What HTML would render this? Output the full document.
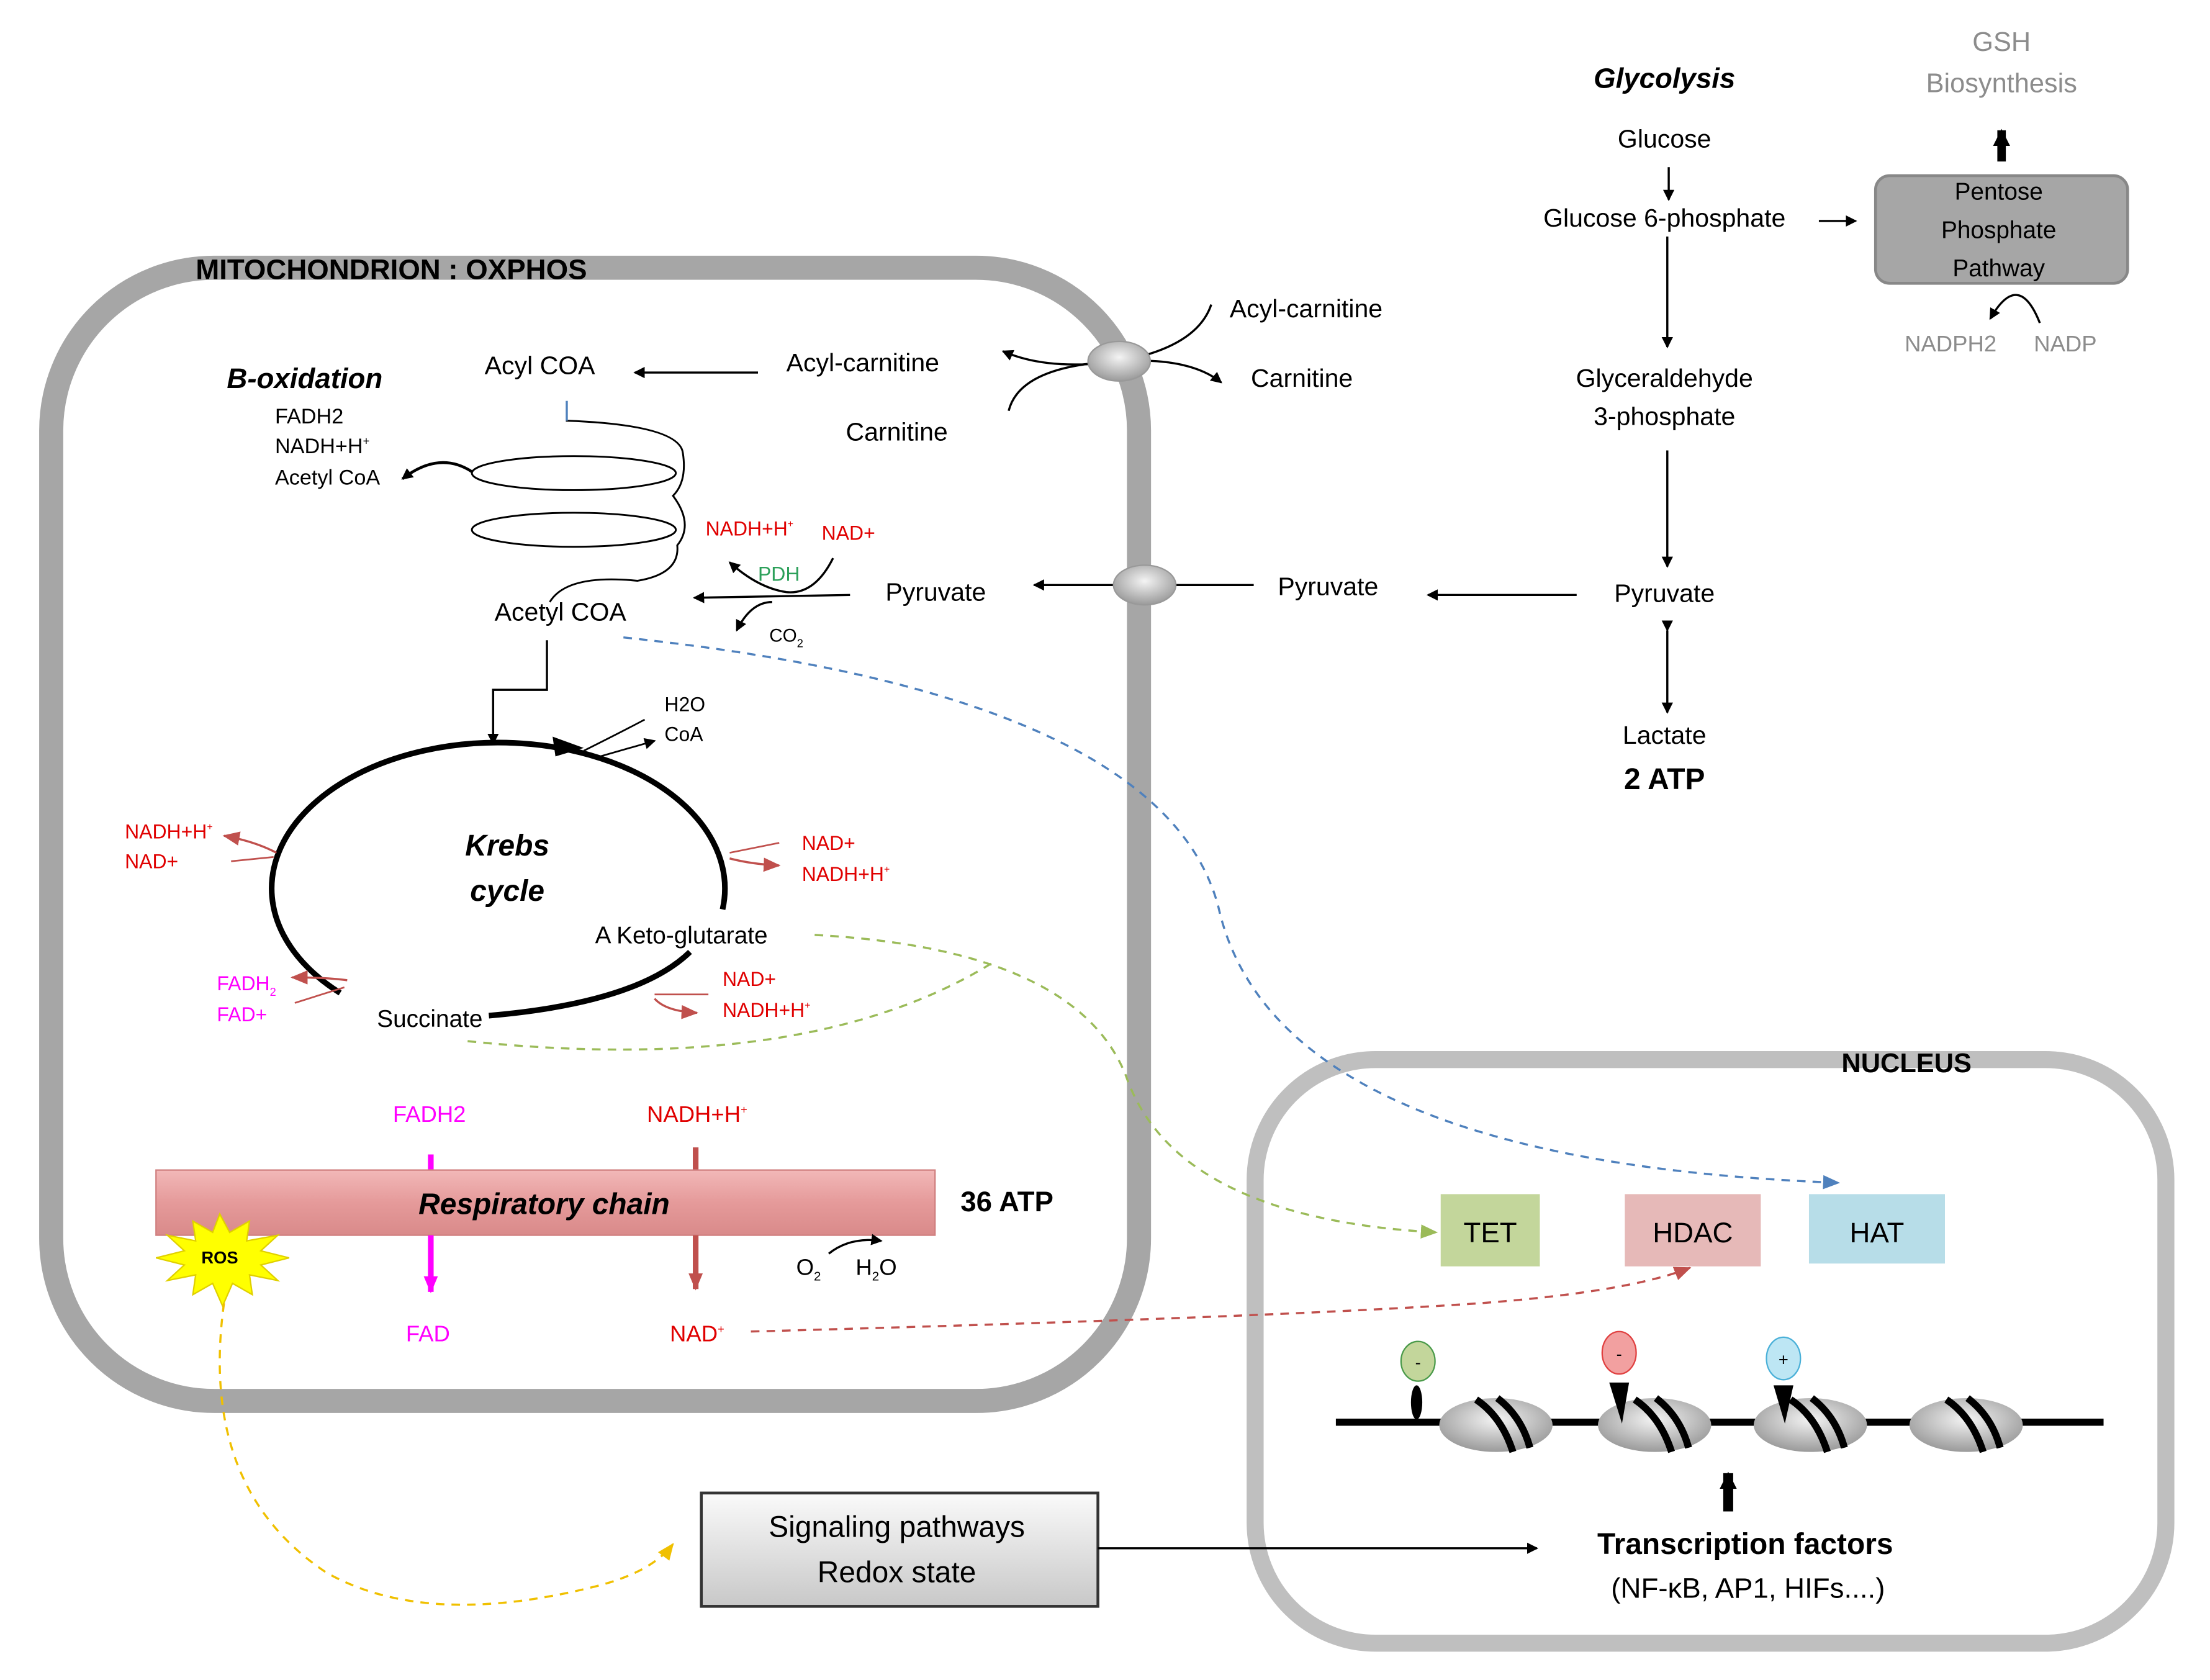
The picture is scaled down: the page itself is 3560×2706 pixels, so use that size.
<!DOCTYPE html>
<html><head><meta charset="utf-8">
<style>
html,body{margin:0;padding:0;background:#fff;}
svg{display:block;}
text{font-family:"Liberation Sans",sans-serif;}
</style></head>
<body>
<svg width="3560" height="2706" viewBox="0 0 1560 1186" xmlns="http://www.w3.org/2000/svg">
<defs>
<marker id="ab" markerWidth="8" markerHeight="8" refX="7" refY="4" orient="auto" markerUnits="userSpaceOnUse"><path d="M0,0 L8,4 L0,8 z" fill="#000"/></marker>
<marker id="abL" markerWidth="12" markerHeight="12" refX="11" refY="6" orient="auto" markerUnits="userSpaceOnUse"><path d="M0,0 L12,6 L0,12 z" fill="#000"/></marker>
<marker id="ar" markerWidth="12" markerHeight="10" refX="11" refY="5" orient="auto" markerUnits="userSpaceOnUse"><path d="M0,0 L12,5 L0,10 z" fill="#c0504d"/></marker>
<marker id="am" markerWidth="12" markerHeight="10" refX="11" refY="5" orient="auto" markerUnits="userSpaceOnUse"><path d="M0,0 L12,5 L0,10 z" fill="#ff00ff"/></marker>
<marker id="ablue" markerWidth="12" markerHeight="10" refX="11" refY="5" orient="auto" markerUnits="userSpaceOnUse"><path d="M0,0 L12,5 L0,10 z" fill="#4f81bd"/></marker>
<marker id="agr" markerWidth="12" markerHeight="10" refX="11" refY="5" orient="auto" markerUnits="userSpaceOnUse"><path d="M0,0 L12,5 L0,10 z" fill="#9bbb59"/></marker>
<marker id="ay" markerWidth="12" markerHeight="10" refX="11" refY="5" orient="auto" markerUnits="userSpaceOnUse"><path d="M0,0 L12,5 L0,10 z" fill="#f0c000"/></marker>
<linearGradient id="gb" x1="0" y1="0" x2="0" y2="1"><stop offset="0" stop-color="#fafafa"/><stop offset="1" stop-color="#c8c8c8"/></linearGradient>
<linearGradient id="gp" x1="0" y1="0" x2="0" y2="1"><stop offset="0" stop-color="#f2b8b8"/><stop offset="0.5" stop-color="#e59a9a"/><stop offset="1" stop-color="#d98a8a"/></linearGradient>
<radialGradient id="gn" cx="0.5" cy="0.4" r="0.6"><stop offset="0" stop-color="#f4f4f4"/><stop offset="1" stop-color="#9a9a9a"/></radialGradient>
</defs>

<!-- Mitochondrion -->
<rect x="36" y="189" width="768" height="800" rx="115" fill="none" stroke="#a6a6a6" stroke-width="17"/>
<text x="138" y="197" font-size="20" font-weight="bold">MITOCHONDRION : OXPHOS</text>

<!-- Nucleus -->
<rect x="886" y="748" width="643" height="412" rx="85" fill="none" stroke="#bfbfbf" stroke-width="12"/>
<text x="1300" y="757" font-size="19" font-weight="bold">NUCLEUS</text>

<!-- Glycolysis -->
<text x="1175" y="62" font-size="20" font-weight="bold" font-style="italic" text-anchor="middle">Glycolysis</text>
<text x="1175" y="104" font-size="18" text-anchor="middle">Glucose</text>
<line x1="1178" y1="118" x2="1178" y2="141" stroke="#000" stroke-width="1.5" marker-end="url(#ab)"/>
<text x="1175" y="160" font-size="18" text-anchor="middle">Glucose 6-phosphate</text>
<line x1="1284" y1="156" x2="1310" y2="156" stroke="#000" stroke-width="1.5" marker-end="url(#ab)"/>
<line x1="1177" y1="167" x2="1177" y2="245" stroke="#000" stroke-width="1.5" marker-end="url(#ab)"/>
<text x="1175" y="273" font-size="18" text-anchor="middle">Glyceraldehyde</text>
<text x="1175" y="300" font-size="18" text-anchor="middle">3-phosphate</text>
<line x1="1177" y1="318" x2="1177" y2="400" stroke="#000" stroke-width="1.5" marker-end="url(#ab)"/>
<text x="1175" y="425" font-size="18" text-anchor="middle">Pyruvate</text>
<line x1="1177" y1="445" x2="1177" y2="503" stroke="#000" stroke-width="1.5" marker-end="url(#ab)" marker-start="url(#ab)"/>
<text x="1175" y="525" font-size="18" text-anchor="middle">Lactate</text>
<text x="1175" y="557" font-size="21" font-weight="bold" text-anchor="middle">2 ATP</text>

<!-- PPP -->
<text x="1413" y="36" font-size="19" fill="#8c8c8c" text-anchor="middle">GSH</text>
<text x="1413" y="65" font-size="19" fill="#8c8c8c" text-anchor="middle">Biosynthesis</text>
<line x1="1413" y1="114" x2="1413" y2="92" stroke="#000" stroke-width="6" marker-end="url(#abL)"/>
<rect x="1324" y="124" width="178" height="76" rx="10" fill="#a6a6a6" stroke="#888" stroke-width="2"/>
<text x="1411" y="141" font-size="17" text-anchor="middle">Pentose</text>
<text x="1411" y="168" font-size="17" text-anchor="middle">Phosphate</text>
<text x="1411" y="195" font-size="17" text-anchor="middle">Pathway</text>
<path d="M1440,228 Q1425,190 1405,225" fill="none" stroke="#000" stroke-width="1.5" marker-end="url(#ab)"/>
<text x="1377" y="248" font-size="16" fill="#8c8c8c" text-anchor="middle">NADPH2</text>
<text x="1458" y="248" font-size="16" fill="#8c8c8c" text-anchor="middle">NADP</text>

<!-- Carnitine shuttle -->
<path d="M855,215 Q845,245 790,255 Q740,262 708,248" fill="none" stroke="#000" stroke-width="1.5" marker-end="url(#ab)"/>
<path d="M712,290 Q720,258 790,255 Q840,252 862,270" fill="none" stroke="#000" stroke-width="1.5" marker-end="url(#ab)"/>
<ellipse cx="790" cy="255" rx="22" ry="14" fill="url(#gn)" stroke="#999"/>
<text x="868" y="224" font-size="18">Acyl-carnitine</text>
<text x="883" y="273" font-size="18">Carnitine</text>
<text x="555" y="262" font-size="18">Acyl-carnitine</text>
<text x="597" y="311" font-size="18">Carnitine</text>
<line x1="535" y1="263" x2="448" y2="263" stroke="#000" stroke-width="1.5" marker-end="url(#ab)"/>
<text x="342" y="264" font-size="18">Acyl COA</text>

<!-- B-oxidation -->
<text x="160" y="274" font-size="20" font-weight="bold" font-style="italic">B-oxidation</text>
<text x="194" y="299" font-size="15">FADH2</text>
<text x="194" y="320" font-size="15">NADH+H<tspan font-size="8" dy="-6">+</tspan></text>
<text x="194" y="342" font-size="15">Acetyl CoA</text>
<path d="M400,285 L400,297 Q480,300 482,320 Q485,340 475,350 Q490,370 478,385 Q480,405 450,410 Q400,405 388,425" fill="none" stroke="#000" stroke-width="1.3"/>
<line x1="400" y1="283" x2="400" y2="297" stroke="#4f81bd" stroke-width="1.5"/>
<ellipse cx="405" cy="334" rx="72" ry="12" fill="none" stroke="#000" stroke-width="1.3"/>
<ellipse cx="405" cy="374" rx="72" ry="12" fill="none" stroke="#000" stroke-width="1.3"/>
<path d="M333,333 Q310,318 284,338" fill="none" stroke="#000" stroke-width="2" marker-end="url(#ab)"/>
<text x="349" y="438" font-size="18">Acetyl COA</text>

<!-- Pyruvate transport -->
<line x1="885" y1="413" x2="730" y2="413" stroke="#000" stroke-width="1.5" marker-end="url(#ab)"/>
<line x1="1113" y1="420" x2="1008" y2="420" stroke="#000" stroke-width="1.5" marker-end="url(#ab)"/>
<ellipse cx="808" cy="413" rx="22" ry="14" fill="url(#gn)" stroke="#999"/>
<text x="902" y="420" font-size="18">Pyruvate</text>
<text x="625" y="424" font-size="18">Pyruvate</text>
<line x1="600" y1="420" x2="490" y2="422" stroke="#000" stroke-width="1.5" marker-end="url(#ab)"/>
<path d="M588,394 Q575,420 555,418 Q535,415 515,397" fill="none" stroke="#000" stroke-width="1.5" marker-end="url(#ab)"/>
<path d="M545,425 Q530,425 520,445" fill="none" stroke="#000" stroke-width="1.5" marker-end="url(#ab)"/>
<text x="498" y="378" font-size="14" fill="#e00000">NADH+H<tspan font-size="7" dy="-6">+</tspan></text>
<text x="580" y="381" font-size="14" fill="#e00000">NAD+</text>
<text x="535" y="410" font-size="14" fill="#2ca05a">PDH</text>
<text x="543" y="453" font-size="13">CO<tspan font-size="8" dy="4">2</tspan></text>

<!-- Acetyl COA to Krebs -->
<path d="M386,452 L386,487 L348,487 L348,525" fill="none" stroke="#000" stroke-width="1.5" marker-end="url(#ab)"/>

<!-- Krebs cycle -->
<path d="M240,701 A160,103 0 1 1 510,642" fill="none" stroke="#000" stroke-width="4"/>
<path d="M487,672 Q450,708 345,717" fill="none" stroke="#000" stroke-width="4"/>
<path d="M390,520 L412,528 L392,534 z" fill="#000"/>
<path d="M412,530 Q440,516 455,508" fill="none" stroke="#000" stroke-width="1.2"/>
<path d="M420,535 L462,523" fill="none" stroke="#000" stroke-width="1.2" marker-end="url(#ab)"/>
<text x="469" y="502" font-size="14">H2O</text>
<text x="469" y="523" font-size="14">CoA</text>
<text x="358" y="604" font-size="21" font-weight="bold" font-style="italic" text-anchor="middle">Krebs</text>
<text x="358" y="636" font-size="21" font-weight="bold" font-style="italic" text-anchor="middle">cycle</text>
<text x="420" y="666" font-size="17">A Keto-glutarate</text>
<text x="266" y="725" font-size="17">Succinate</text>

<!-- Krebs side arrows -->
<path d="M195,602 Q180,594 158,590" fill="none" stroke="#c0504d" stroke-width="1.5" marker-end="url(#ar)"/>
<line x1="193" y1="605" x2="163" y2="608" stroke="#c0504d" stroke-width="1.2"/>
<text x="88" y="592" font-size="14" fill="#e00000">NADH+H<tspan font-size="7" dy="-6">+</tspan></text>
<text x="88" y="613" font-size="14" fill="#e00000">NAD+</text>
<line x1="515" y1="602" x2="550" y2="595" stroke="#c0504d" stroke-width="1.2"/>
<path d="M515,606 Q530,610 550,611" fill="none" stroke="#c0504d" stroke-width="1.5" marker-end="url(#ar)"/>
<text x="566" y="600" font-size="14" fill="#e00000">NAD+</text>
<text x="566" y="622" font-size="14" fill="#e00000">NADH+H<tspan font-size="7" dy="-6">+</tspan></text>
<line x1="462" y1="702" x2="500" y2="702" stroke="#c0504d" stroke-width="1.2"/>
<path d="M462,705 Q470,714 492,715" fill="none" stroke="#c0504d" stroke-width="1.5" marker-end="url(#ar)"/>
<text x="510" y="696" font-size="14" fill="#e00000">NAD+</text>
<text x="510" y="718" font-size="14" fill="#e00000">NADH+H<tspan font-size="7" dy="-6">+</tspan></text>
<path d="M245,692 Q230,690 206,690" fill="none" stroke="#c0504d" stroke-width="1.5" marker-end="url(#ar)"/>
<line x1="243" y1="697" x2="208" y2="708" stroke="#c0504d" stroke-width="1.2"/>
<text x="153" y="699" font-size="14" fill="#ff00ff">FADH<tspan font-size="8" dy="4">2</tspan></text>
<text x="153" y="721" font-size="14" fill="#ff00ff">FAD+</text>

<!-- Respiratory chain -->
<text x="303" y="792" font-size="16" fill="#ff00ff" text-anchor="middle">FADH2</text>
<text x="492" y="792" font-size="16" fill="#e00000" text-anchor="middle">NADH+H<tspan font-size="8" dy="-6">+</tspan></text>
<line x1="304" y1="815" x2="304" y2="828" stroke="#ff00ff" stroke-width="4"/>
<line x1="491" y1="810" x2="491" y2="828" stroke="#c0504d" stroke-width="4"/>
<rect x="110" y="826" width="550" height="46" fill="url(#gp)" stroke="#d08080" stroke-width="1"/>
<text x="384" y="857" font-size="21" font-weight="bold" font-style="italic" text-anchor="middle">Respiratory chain</text>
<text x="678" y="855" font-size="20" font-weight="bold">36 ATP</text>
<line x1="304" y1="872" x2="304" y2="912" stroke="#ff00ff" stroke-width="4" marker-end="url(#am)"/>
<line x1="491" y1="872" x2="491" y2="910" stroke="#c0504d" stroke-width="4" marker-end="url(#ar)"/>
<text x="302" y="947" font-size="16" fill="#ff00ff" text-anchor="middle">FAD</text>
<text x="492" y="947" font-size="16" fill="#e00000" text-anchor="middle">NAD<tspan font-size="8" dy="-6">+</tspan></text>
<path d="M585,885 Q600,873 622,876" fill="none" stroke="#000" stroke-width="1.5" marker-end="url(#ab)"/>
<text x="562" y="900" font-size="16">O<tspan font-size="9" dy="4">2</tspan></text>
<text x="604" y="900" font-size="16">H<tspan font-size="9" dy="4">2</tspan><tspan dy="-4">O</tspan></text>
<!-- ROS star -->
<polygon points="155,857 162,870 176,862 174,876 196,872 184,883 204,888 184,893 196,904 176,900 178,914 164,906 157,922 150,906 136,914 138,900 118,904 130,893 110,888 130,883 118,872 138,876 136,862 150,870" fill="#ffff00" stroke="#e0d000" stroke-width="1"/>
<text x="155" y="892" font-size="12" font-weight="bold" text-anchor="middle">ROS</text>

<!-- Dashed connectors -->
<path d="M440,450 Q820,490 860,640 Q900,820 1298,835" fill="none" stroke="#4f81bd" stroke-width="1.5" stroke-dasharray="6,5" marker-end="url(#ablue)"/>
<path d="M575,660 Q760,670 795,760 Q830,860 1014,870" fill="none" stroke="#9bbb59" stroke-width="1.5" stroke-dasharray="6,5" marker-end="url(#agr)"/>
<path d="M330,735 Q570,760 700,680" fill="none" stroke="#9bbb59" stroke-width="1.5" stroke-dasharray="6,5"/>
<path d="M530,940 Q900,930 1045,920 Q1150,912 1193,895" fill="none" stroke="#c0504d" stroke-width="1.5" stroke-dasharray="6,5" marker-end="url(#ar)"/>
<path d="M158,920 Q140,1050 230,1110 Q300,1150 420,1120 Q460,1110 475,1090" fill="none" stroke="#f0c000" stroke-width="1.5" stroke-dasharray="6,5" marker-end="url(#ay)"/>

<!-- Signaling box -->
<rect x="495" y="1054" width="280" height="80" fill="url(#gb)" stroke="#333" stroke-width="2"/>
<text x="633" y="1085" font-size="21" text-anchor="middle">Signaling pathways</text>
<text x="633" y="1117" font-size="21" text-anchor="middle">Redox state</text>
<line x1="775" y1="1093" x2="1085" y2="1093" stroke="#000" stroke-width="1.5" marker-end="url(#ab)"/>

<!-- Nucleus content -->
<rect x="1017" y="843" width="70" height="51" fill="#c3d69b"/>
<text x="1052" y="877" font-size="20" text-anchor="middle">TET</text>
<rect x="1147" y="843" width="96" height="51" fill="#e6b9b8"/>
<text x="1195" y="877" font-size="20" text-anchor="middle">HDAC</text>
<rect x="1277" y="843" width="96" height="49" fill="#b7dde8"/>
<text x="1325" y="877" font-size="20" text-anchor="middle">HAT</text>

<line x1="943" y1="1004" x2="1485" y2="1004" stroke="#000" stroke-width="5"/>
<g stroke="#000" stroke-width="5" fill="none">
<ellipse cx="1056" cy="1006" rx="40" ry="19" fill="url(#gn)" stroke="none"/>
<path d="M1042,988 Q1060,1000 1068,1025"/><path d="M1057,987 Q1074,1000 1080,1022"/>
<ellipse cx="1168" cy="1006" rx="40" ry="19" fill="url(#gn)" stroke="none"/>
<path d="M1154,988 Q1172,1000 1180,1025"/><path d="M1169,987 Q1186,1000 1192,1022"/>
<ellipse cx="1278" cy="1006" rx="40" ry="19" fill="url(#gn)" stroke="none"/>
<path d="M1264,988 Q1282,1000 1290,1025"/><path d="M1279,987 Q1296,1000 1302,1022"/>
<ellipse cx="1388" cy="1006" rx="40" ry="19" fill="url(#gn)" stroke="none"/>
<path d="M1374,988 Q1392,1000 1400,1025"/><path d="M1389,987 Q1406,1000 1412,1022"/>
</g>
<ellipse cx="1000" cy="990" rx="4" ry="12" fill="#000"/>
<ellipse cx="1001" cy="961" rx="12" ry="14" fill="#c3d69b" stroke="#4a9a4a"/>
<text x="1001" y="966" font-size="12" text-anchor="middle">-</text>
<path d="M1136,976 L1150,976 L1145,1005 z" fill="#000"/>
<ellipse cx="1143" cy="955" rx="12" ry="15" fill="#f2a0a0" stroke="#e04040"/>
<text x="1143" y="960" font-size="12" text-anchor="middle">-</text>
<path d="M1252,978 L1266,978 L1260,1005 z" fill="#000"/>
<ellipse cx="1259" cy="959" rx="12" ry="15" fill="#bde6f4" stroke="#4ab0d8"/>
<text x="1259" y="964" font-size="12" text-anchor="middle">+</text>
<line x1="1220" y1="1067" x2="1220" y2="1040" stroke="#000" stroke-width="7" marker-end="url(#abL)"/>
<text x="1232" y="1097" font-size="21" font-weight="bold" text-anchor="middle">Transcription factors</text>
<text x="1234" y="1128" font-size="20" text-anchor="middle">(NF-κB, AP1, HIFs....)</text>
</svg>
</body></html>
